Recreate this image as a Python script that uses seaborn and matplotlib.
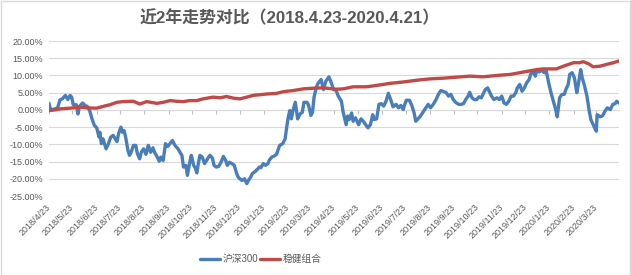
import matplotlib
matplotlib.use("Agg")
import matplotlib.pyplot as plt
from matplotlib.ticker import FuncFormatter
from matplotlib.patches import Rectangle
from matplotlib.lines import Line2D
import seaborn as sns
import pandas as pd

sns.set_style("white")
plt.rcParams['font.family'] = ['Liberation Sans', 'Noto Sans CJK SC', 'DejaVu Sans']

TITLE = "近2年走势对比（2018.4.23-2020.4.21）"
SERIES = ["沪深300", "稳健组合"]
COLORS = ["#4A7EBB", "#BE4B48"]

# 沪深300 cumulative return (%)
hs300_dates = [
    "2018-04-23", "2018-04-25",
    "2018-05-01", "2018-05-04", "2018-05-07", "2018-05-10", "2018-05-14", "2018-05-17", "2018-05-20", "2018-05-22", "2018-05-24", "2018-05-28", "2018-05-30",
    "2018-06-01", "2018-06-05", "2018-06-08", "2018-06-11", "2018-06-14", "2018-06-17", "2018-06-20", "2018-06-23", "2018-06-26", "2018-06-27", "2018-06-29",
    "2018-07-01", "2018-07-05", "2018-07-08", "2018-07-11", "2018-07-14", "2018-07-16", "2018-07-19", "2018-07-21", "2018-07-24", "2018-07-26", "2018-07-28", "2018-07-30",
    "2018-08-02", "2018-08-04", "2018-08-06", "2018-08-09", "2018-08-12", "2018-08-14", "2018-08-17", "2018-08-19", "2018-08-22", "2018-08-25", "2018-08-28", "2018-08-31",
    "2018-09-03", "2018-09-05", "2018-09-08", "2018-09-11", "2018-09-13", "2018-09-16", "2018-09-19", "2018-09-22", "2018-09-25", "2018-09-28",
    "2018-10-01", "2018-10-05", "2018-10-08", "2018-10-10", "2018-10-12", "2018-10-15", "2018-10-17", "2018-10-20", "2018-10-22", "2018-10-25", "2018-10-27", "2018-10-29", "2018-10-31",
    "2018-11-02", "2018-11-05", "2018-11-08", "2018-11-11", "2018-11-13", "2018-11-15", "2018-11-18", "2018-11-20", "2018-11-23", "2018-11-26", "2018-11-29",
    "2018-12-02", "2018-12-05", "2018-12-07", "2018-12-10", "2018-12-13", "2018-12-16", "2018-12-19", "2018-12-21", "2018-12-23", "2018-12-26", "2018-12-29",
    "2019-01-01", "2019-01-03", "2019-01-06", "2019-01-08", "2019-01-11", "2019-01-14", "2019-01-17", "2019-01-19", "2019-01-22", "2019-01-25", "2019-01-28", "2019-01-30",
    "2019-02-02", "2019-02-05", "2019-02-08", "2019-02-10", "2019-02-12", "2019-02-16", "2019-02-19", "2019-02-21", "2019-02-23", "2019-02-25", "2019-02-27",
    "2019-03-01", "2019-03-04", "2019-03-07", "2019-03-10", "2019-03-13", "2019-03-15", "2019-03-19", "2019-03-21", "2019-03-24", "2019-03-26", "2019-03-28", "2019-03-31",
    "2019-04-02", "2019-04-06", "2019-04-09", "2019-04-12", "2019-04-16", "2019-04-19", "2019-04-22", "2019-04-25", "2019-04-28",
    "2019-05-02", "2019-05-04", "2019-05-08", "2019-05-10", "2019-05-12", "2019-05-15", "2019-05-17", "2019-05-20", "2019-05-24", "2019-05-27", "2019-05-30",
    "2019-06-02", "2019-06-05", "2019-06-08", "2019-06-11", "2019-06-13", "2019-06-16", "2019-06-19", "2019-06-22", "2019-06-25", "2019-06-28",
    "2019-07-01", "2019-07-04", "2019-07-07", "2019-07-11", "2019-07-14", "2019-07-17", "2019-07-20", "2019-07-22", "2019-07-24", "2019-07-28", "2019-07-31",
    "2019-08-03", "2019-08-05", "2019-08-08", "2019-08-11", "2019-08-15", "2019-08-18", "2019-08-21", "2019-08-24", "2019-08-28", "2019-08-31",
    "2019-09-03", "2019-09-06", "2019-09-09", "2019-09-13", "2019-09-16", "2019-09-19", "2019-09-22", "2019-09-25", "2019-09-29",
    "2019-10-02", "2019-10-05", "2019-10-08", "2019-10-11", "2019-10-13", "2019-10-16", "2019-10-19", "2019-10-22", "2019-10-25", "2019-10-28", "2019-10-30",
    "2019-11-02", "2019-11-05", "2019-11-07", "2019-11-10", "2019-11-13", "2019-11-17", "2019-11-20", "2019-11-23", "2019-11-26", "2019-11-29",
    "2019-12-02", "2019-12-05", "2019-12-08", "2019-12-11", "2019-12-13", "2019-12-16", "2019-12-19", "2019-12-22", "2019-12-25", "2019-12-28", "2019-12-30",
    "2020-01-02", "2020-01-05", "2020-01-07", "2020-01-10", "2020-01-13", "2020-01-15", "2020-01-17", "2020-01-19", "2020-01-22", "2020-01-25", "2020-01-28", "2020-01-31",
    "2020-02-02", "2020-02-05", "2020-02-08", "2020-02-11", "2020-02-13", "2020-02-16", "2020-02-18", "2020-02-21", "2020-02-24", "2020-02-27", "2020-02-29",
    "2020-03-03", "2020-03-05", "2020-03-08", "2020-03-11", "2020-03-14", "2020-03-16", "2020-03-18", "2020-03-20", "2020-03-23", "2020-03-24", "2020-03-28", "2020-03-31",
    "2020-04-03", "2020-04-06", "2020-04-10", "2020-04-13", "2020-04-16", "2020-04-18", "2020-04-21",
]
hs300_values = [
    1.9, 0.0,
    0.3, 0.6, 2.9, 3.2, 4.2, 3.0, 4.2, 3.7, 1.5, 1.5, -1.2,
    1.0, 2.0, 1.3, 1.0, -0.2, -2.6, -4.5, -5.2, -7.9, -6.5, -9.8,
    -8.4, -11.3, -9.8, -7.9, -7.4, -8.1, -9.2, -6.9, -5.0, -6.5, -6.0, -7.9,
    -11.8, -13.2, -12.3, -10.3, -10.3, -12.7, -14.2, -12.3, -11.3, -12.9, -10.3, -12.3,
    -11.0, -12.3, -13.5, -14.9, -13.7, -14.7, -9.8, -10.6, -9.7, -8.9,
    -10.3, -11.3, -12.5, -13.2, -16.6, -16.1, -19.0, -15.2, -13.2, -16.1, -16.8, -18.3, -15.6,
    -13.2, -13.7, -15.6, -14.5, -13.7, -13.2, -14.0, -16.1, -16.6, -16.4, -15.2,
    -13.5, -14.7, -16.1, -15.2, -15.6, -16.1, -18.5, -19.5, -20.0, -20.5, -20.0,
    -21.4, -20.5, -19.5, -18.5, -18.0, -17.4, -16.6, -16.8, -15.6, -16.1, -15.6, -14.5,
    -13.7, -13.4, -12.9, -11.6, -10.3, -9.8, -8.4, -5.0, -2.1, -0.2, -2.6,
    -0.2, 2.2, -2.6, -1.2, -0.7, 2.2, 2.2, 1.3, -1.6, -0.7, 3.7, 6.6,
    7.7, 8.8, 5.9, 8.3, 9.6, 7.9, 5.9, 5.7, 4.0,
    2.5, -0.4, -4.3, -1.8, -2.8, -0.9, -3.3, -2.3, -4.3, -2.6, -3.3,
    -4.3, -5.2, -4.3, -1.4, -2.8, -2.6, 1.6, 1.8, 1.1, 2.5,
    4.8, 3.0, 0.9, 1.6, 0.6, 1.3, 0.1, 1.6, 2.8, 2.8, 1.3,
    -0.9, -3.3, -2.6, -1.8, -0.4, 0.6, 1.6, 0.6, 1.8, 3.0,
    4.5, 5.6, 5.4, 5.0, 4.0, 4.5, 3.0, 2.2, 1.6,
    1.6, 1.8, 3.0, 4.0, 5.1, 3.5, 3.0, 3.0, 3.8, 3.5, 4.5,
    5.9, 6.4, 5.4, 4.0, 3.0, 3.5, 3.0, 4.0, 2.0, 1.6,
    2.5, 4.0, 4.0, 5.0, 6.4, 7.4, 5.4, 6.4, 7.9, 8.8, 10.3,
    11.3, 9.8, 11.7, 11.0, 11.7, 11.0, 10.8, 11.3, 7.9, 5.0, 2.5, 0.1,
    -2.0, 3.5, 4.5, 4.5, 5.9, 7.4, 10.3, 10.8, 9.3, 5.0, 7.4,
    11.7, 9.3, 6.9, 4.0, -0.4, -2.8, -3.8, -4.8, -6.2, -1.4, -2.0, -1.7,
    -0.4, 0.6, 0.1, 1.6, 1.8, 2.5, 2.0,
]

# 稳健组合 cumulative return (%)
steady_dates = [
    "2018-04-23", "2018-05-01", "2018-05-07", "2018-05-20", "2018-06-02", "2018-06-10", "2018-06-23",
    "2018-07-01", "2018-07-10", "2018-07-19", "2018-07-27", "2018-08-09", "2018-08-17", "2018-08-26",
    "2018-09-08", "2018-09-16", "2018-09-25", "2018-10-03", "2018-10-12", "2018-10-20", "2018-10-29",
    "2018-11-06", "2018-11-19", "2018-11-28", "2018-12-06", "2018-12-15", "2018-12-23",
    "2019-01-01", "2019-01-09", "2019-01-26", "2019-02-08", "2019-02-17", "2019-03-01", "2019-03-14",
    "2019-03-27", "2019-04-09", "2019-04-25", "2019-05-04", "2019-05-17", "2019-06-03", "2019-06-16",
    "2019-07-03", "2019-07-20", "2019-08-06", "2019-08-23", "2019-09-09", "2019-09-26", "2019-10-13",
    "2019-10-30", "2019-11-17", "2019-12-04", "2019-12-21", "2020-01-07", "2020-01-15", "2020-02-01",
    "2020-02-10", "2020-02-23", "2020-03-02", "2020-03-06", "2020-03-13", "2020-03-19", "2020-03-28",
    "2020-04-05", "2020-04-14", "2020-04-21",
]
steady_values = [
    -0.2, 0.0, 0.3, 0.5, 0.8, 0.6, 0.5,
    1.0, 1.5, 2.2, 2.4, 2.5, 1.7, 2.4,
    1.9, 2.2, 2.7, 2.5, 2.4, 2.7, 2.7,
    3.2, 3.7, 3.5, 3.9, 3.4, 3.2,
    3.7, 4.2, 4.6, 4.8, 5.3, 5.6, 6.1,
    6.3, 6.4, 6.0, 6.1, 6.7, 6.7, 7.1,
    7.7, 8.1, 8.6, 9.0, 9.2, 9.5, 9.8,
    9.6, 10.0, 10.3, 11.0, 11.7, 11.9, 11.9,
    12.7, 13.7, 13.7, 14.0, 13.4, 12.5, 12.7,
    13.2, 13.7, 14.2,
]

tick_dates = pd.date_range("2018-04-23", periods=24, freq=pd.DateOffset(months=1))
tick_labels = [f"{d.year}/{d.month}/{d.day}" for d in tick_dates]
x_start, x_end = pd.Timestamp("2018-04-23"), pd.Timestamp("2020-04-21")

df = pd.concat([
    pd.DataFrame({"date": pd.to_datetime(hs300_dates), "value": hs300_values, "series": SERIES[0]}),
    pd.DataFrame({"date": pd.to_datetime(steady_dates), "value": steady_values, "series": SERIES[1]}),
], ignore_index=True)

W, H = 631, 275
fig = plt.figure(figsize=(W / 100, H / 100), dpi=100)
ax = fig.add_axes([49 / W, 1 - 196 / H, 570 / W, 155 / H])

sns.lineplot(data=df, x="date", y="value", hue="series", hue_order=SERIES,
             palette=dict(zip(SERIES, COLORS)), linewidth=2.4, estimator=None,
             legend=False, ax=ax)

grey_txt = "#595959"
ax.set_ylim(-25, 20)
ax.set_yticks(range(-25, 21, 5))
ax.yaxis.set_major_formatter(FuncFormatter(lambda v, p: f"{v:.2f}%"))
ax.set_xlim(x_start, x_end)
ax.set_xticks(tick_dates)
ax.set_xticklabels(tick_labels, rotation=45, ha="right", va="center",
                   rotation_mode="anchor")
ax.tick_params(axis="x", length=0, pad=7, labelsize=6.5, labelcolor=grey_txt)
ax.tick_params(axis="y", length=0, pad=4, labelsize=6.5, labelcolor=grey_txt)
ax.yaxis.grid(True, color="#D9D9D9", linewidth=0.8)
ax.xaxis.grid(False)
ax.set_axisbelow(True)
for s in ax.spines.values():
    s.set_visible(False)
ax.set_xlabel("")
ax.set_ylabel("")

# category axis crossing at 0% with small tick marks
sec = ax.secondary_xaxis(25 / 45)
sec.set_alignment("bottom")
sec.set_xticks(tick_dates)
sec.tick_params(axis="x", length=3, width=0.8, color="#BFBFBF", labelbottom=False, labeltop=False)
for name, s in sec.spines.items():
    s.set_color("#D9D9D9")
    s.set_linewidth(0.8)

fig.text(290 / W, 1 - 18 / H, TITLE, ha="center", va="center",
         fontsize=12.2, fontweight="bold", color=grey_txt)

handles = [Line2D([0], [0], color=c, lw=2.4) for c in COLORS]
leg = fig.legend(handles, SERIES, loc="center", bbox_to_anchor=(261 / W, 1 - 259 / H),
                 ncol=2, frameon=False, fontsize=7, handlelength=2.0,
                 handletextpad=0.3, columnspacing=0.2)
for t in leg.get_texts():
    t.set_color(grey_txt)

fig.add_artist(Rectangle((0.5 / W, 0.5 / H), 1 - 1.5 / W, 1 - 1.5 / H,
                         transform=fig.transFigure, fill=False,
                         edgecolor="#D9D9D9", linewidth=1))

fig.savefig("out.png", dpi=100)
